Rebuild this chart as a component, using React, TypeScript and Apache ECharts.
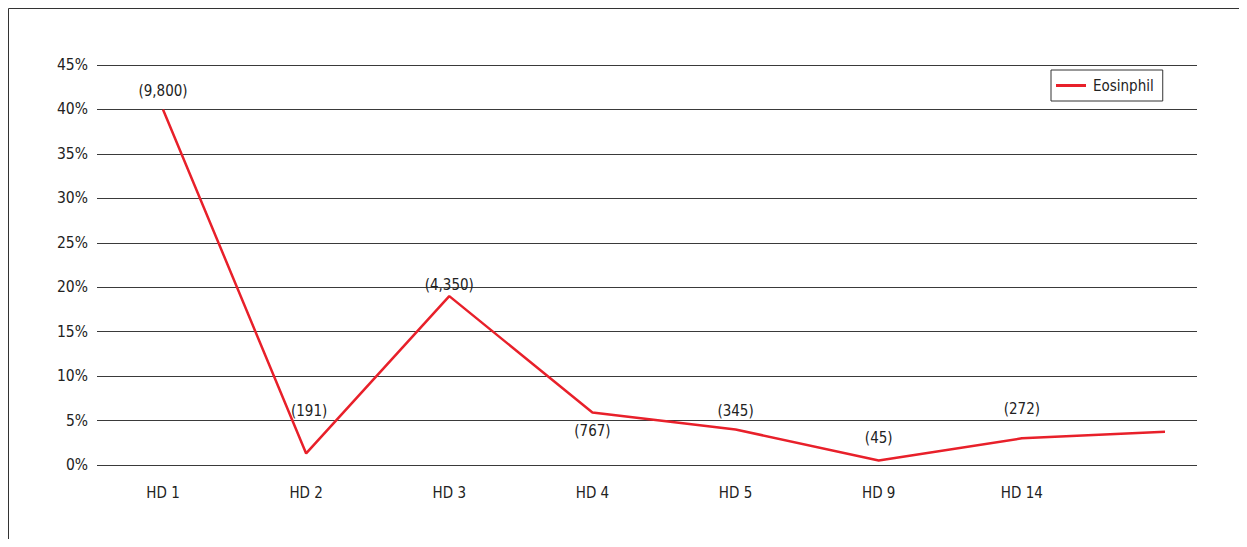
import React, { useEffect, useRef } from "react";
import * as echarts from "echarts";

const categories = ["HD 1", "HD 2", "HD 3", "HD 4", "HD 5", "HD 9", "HD 14", ""];
const eosinophilPct = [40, 1.3, 19, 5.9, 4.0, 0.5, 3.0, 3.75];
const countLabels = ["(9,800)", "(191)", "(4,350)", "(767)", "(345)", "(45)", "(272)", ""];
const yTicks = [0, 5, 10, 15, 20, 25, 30, 35, 40, 45];

// label offsets (style only)
const labelOffsets: [number, number][] = [
  [0, -18], [3, -42], [0, -11], [0, 18], [0, -18], [0, -23], [0, -29], [0, 0],
];

const FONT = '"Liberation Sans Narrow", "DejaVu Sans Condensed", "Noto Sans", sans-serif';

export default function App() {
  const ref = useRef<HTMLDivElement>(null);
  useEffect(() => {
    if (!ref.current) return;
    const chart = echarts.init(ref.current, undefined, { renderer: "svg" });
    const top = 57;
    const bottom = 74;
    chart.setOption({
      animation: false,
      backgroundColor: "#fff",
      textStyle: { fontFamily: FONT },
      graphic: [
        {
          type: "rect",
          shape: { x: 0.5, y: 0.5, width: 1400, height: 800 },
          style: { fill: "none", stroke: "#333", lineWidth: 1 },
          silent: true,
        },
      ],
      legend: {
        left: 1043,
        top: 62,
        orient: "vertical",
        borderColor: "#333",
        borderWidth: 1,
        padding: [8, 9, 8, 5],
        itemWidth: 30,
        itemHeight: 3,
        itemGap: 7,
        textStyle: { fontFamily: FONT, fontSize: 15, color: "#222", padding: [0, 0, 0, 2] },
        data: [{ name: "Eosinphil", icon: "rect" }],
      },
      grid: [
        { left: 89, right: 50, top, bottom, containLabel: false },
        { left: 155, right: 82, top, bottom, containLabel: false },
      ],
      xAxis: [
        { type: "value", gridIndex: 0, show: false, min: 0, max: 1 },
        {
          type: "category",
          gridIndex: 1,
          data: categories,
          boundaryGap: false,
          axisLine: { show: false },
          axisTick: { show: false },
          splitLine: { show: false },
          axisLabel: {
            interval: 0,
            margin: 20,
            fontFamily: FONT,
            fontSize: 15,
            color: "#222",
          },
        },
      ],
      yAxis: [
        {
          type: "value",
          gridIndex: 0,
          min: yTicks[0],
          max: yTicks[yTicks.length - 1],
          interval: 5,
          axisLine: { show: false },
          axisTick: { show: false },
          splitLine: { show: true, lineStyle: { color: "#3a3a3a", width: 1.2 } },
          axisLabel: {
            formatter: "{value}%",
            margin: 9,
            fontFamily: FONT,
            fontSize: 15.5,
            color: "#222",
          },
        },
        {
          type: "value",
          gridIndex: 1,
          min: yTicks[0],
          max: yTicks[yTicks.length - 1],
          interval: 5,
          show: false,
          splitLine: { show: false },
        },
      ],
      series: [
        {
          name: "Eosinphil",
          type: "line",
          xAxisIndex: 1,
          yAxisIndex: 1,
          symbol: "circle",
          symbolSize: 0.1,
          showSymbol: true,
          lineStyle: { color: "#e8202a", width: 2.5 },
          itemStyle: { color: "#e8202a" },
          data: eosinophilPct.map((v, i) => ({
            value: v,
            label: {
              show: countLabels[i] !== "",
              formatter: countLabels[i],
              position: "inside",
              offset: labelOffsets[i],
              fontFamily: FONT,
              fontSize: 15,
              color: "#222",
            },
          })),
        },
      ],
    });
    return () => chart.dispose();
  }, []);
  return <div ref={ref} style={{ width: 1239, height: 531 }} />;
}
